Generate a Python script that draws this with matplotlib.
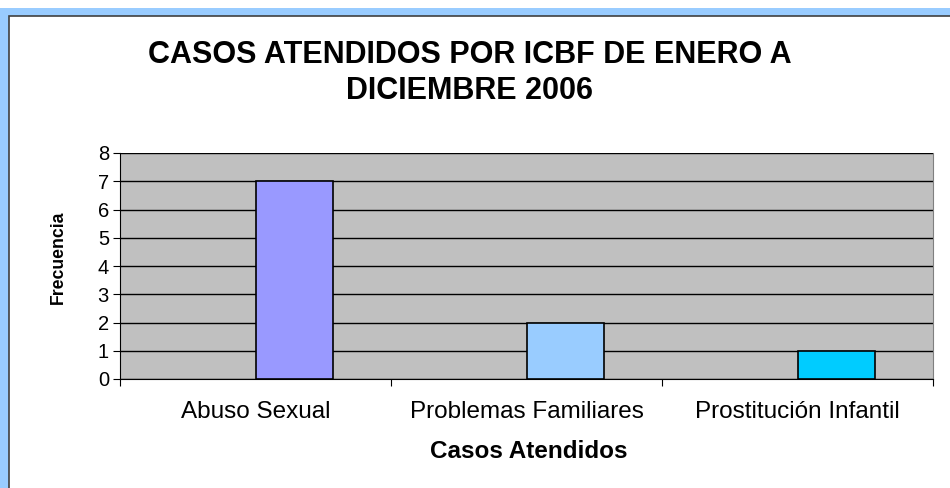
import numpy as np
import matplotlib.pyplot as plt
from matplotlib.patches import Rectangle

plt.rcParams['font.family'] = ['Liberation Sans', 'DejaVu Sans']

# Datos del grafico
casos = ['Abuso Sexual', 'Problemas Familiares', 'Prostitución Infantil']
frecuencia = [7, 2, 1]
colores = ['#9999FF', '#99CCFF', '#00CCFF']
y_ticks = [0, 1, 2, 3, 4, 5, 6, 7, 8]

W, H = 950, 488
fig = plt.figure(figsize=(W / 100, H / 100), dpi=100)
fig.patch.set_facecolor('white')

# Marco azul claro y area blanca del grafico
fig.patches.append(Rectangle((0, 0), 1, 1 - 8 / H, transform=fig.transFigure,
                             facecolor='#99CCFF', edgecolor='none', zorder=-2))
fig.patches.append(Rectangle((9 / W, -0.01), 1.0, 1 - 16 / H + 0.01, transform=fig.transFigure,
                             facecolor='white', edgecolor='#404040', lw=1.2, zorder=-1))

ax = fig.add_axes([120 / W, 1 - 379 / H, (933 - 120) / W, (379 - 153) / H])
ax.set_facecolor('#C0C0C0')

x = np.arange(len(casos))
# las barras empiezan en el centro de cada categoria (estilo Excel)
ax.bar(x, frecuencia, width=0.285, align='edge', color=colores,
       edgecolor='black', lw=1.2, zorder=3)

ax.set_xlim(-0.5, len(casos) - 0.5)
ax.set_ylim(0, 8)
ax.set_yticks(y_ticks)
ax.yaxis.grid(True, color='black', lw=1, zorder=1)
ax.set_axisbelow(True)

ax.set_xticks(np.arange(-0.5, len(casos), 1.0))
ax.set_xticklabels([])
ax.set_xticks(x, minor=True)
ax.set_xticklabels(casos, minor=True, fontsize=17.5)
ax.tick_params(axis='x', which='minor', length=0, pad=15.5)
ax.tick_params(axis='x', which='major', length=5, direction='out', color='black')
ax.tick_params(axis='y', labelsize=14.5, length=5, pad=3)

ax.spines['top'].set_visible(False)
ax.spines['right'].set_color('#808080')
ax.spines['left'].set_color('black')
ax.spines['bottom'].set_color('black')

ax.set_ylabel('Frecuencia', fontsize=12.7, fontweight='bold', va='center')
ax.yaxis.set_label_coords((58 - 120) / 813, (379 - 257) / 226)
ax.set_xlabel('Casos Atendidos', fontsize=17.5, fontweight='bold', va='center')
ax.xaxis.set_label_coords(0.5 + (529 - 526.5) / 813, (379 - 452) / 226)

fig.text(470 / W, 1 - 73 / H, 'CASOS ATENDIDOS POR ICBF DE ENERO A\nDICIEMBRE 2006',
         ha='center', va='center', fontsize=22, fontweight='bold', linespacing=1.28)

fig.savefig('out.png', dpi=100)
